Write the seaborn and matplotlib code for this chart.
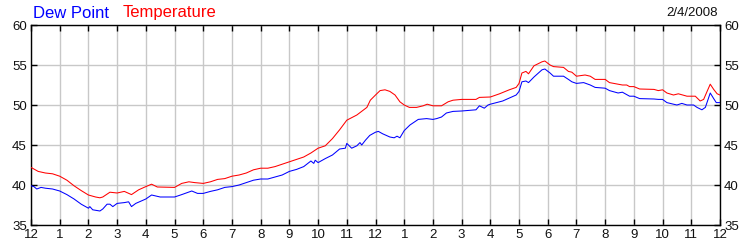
import matplotlib
matplotlib.use("Agg")
import matplotlib.pyplot as plt
import seaborn as sns
import pandas as pd

# ---- data (hours after midnight, degrees F) ----
temp_hours = [0, 0.25, 0.5, 0.75, 1, 1.25, 1.5, 1.75, 2, 2.25,
              2.4, 2.5, 2.75, 3, 3.25, 3.5, 3.75, 4, 4.2, 4.4,
              5, 5.25, 5.5, 5.7, 6, 6.25, 6.5, 6.75, 7, 7.25,
              7.5, 7.75, 8, 8.25, 8.5, 8.75, 9, 9.25, 9.5, 9.75,
              10, 10.25, 10.5, 10.75, 11, 11.35, 11.7, 11.82, 12, 12.16,
              12.33, 12.5, 12.68, 12.85, 13, 13.18, 13.43, 13.66, 13.8, 14,
              14.3, 14.53, 14.7, 15, 15.5, 15.62, 16, 16.32, 16.66, 16.9,
              17.0, 17.1, 17.24, 17.33, 17.52, 17.8, 17.9, 18.08, 18.2, 18.55,
              18.72, 18.84, 19.0, 19.3, 19.48, 19.65, 20.0, 20.15, 20.45, 20.6,
              20.75, 20.85, 21.0, 21.2, 21.7, 21.85, 22.0, 22.15, 22.38, 22.55,
              22.85, 23.14, 23.31, 23.43, 23.55, 23.66, 23.78, 23.9, 24.0]
temp_vals = [42.2, 41.7, 41.5, 41.4, 41.1, 40.6, 39.9, 39.3, 38.75, 38.5,
             38.4, 38.5, 39.1, 39.0, 39.2, 38.8, 39.4, 39.8, 40.1, 39.75,
             39.7, 40.2, 40.4, 40.3, 40.2, 40.4, 40.7, 40.8, 41.1, 41.25,
             41.5, 41.9, 42.1, 42.1, 42.3, 42.6, 42.9, 43.2, 43.5, 44.0,
             44.6, 44.9, 45.8, 46.9, 48.1, 48.75, 49.7, 50.6, 51.25, 51.8,
             51.9, 51.7, 51.25, 50.4, 50.0, 49.7, 49.7, 49.9, 50.1, 49.9,
             49.9, 50.4, 50.6, 50.7, 50.7, 50.95, 51.0, 51.4, 51.9, 52.2,
             52.7, 54.0, 54.2, 53.9, 54.9, 55.4, 55.5, 55.0, 54.8, 54.7,
             54.2, 54.1, 53.6, 53.75, 53.6, 53.2, 53.2, 52.8, 52.6, 52.5,
             52.5, 52.3, 52.3, 52.0, 51.95, 51.8, 51.9, 51.5, 51.25, 51.4,
             51.1, 51.1, 50.5, 50.7, 51.7, 52.6, 51.95, 51.4, 51.25]

dew_hours = [0, 0.1, 0.2, 0.35, 0.5, 0.75, 1, 1.25, 1.5, 1.75,
             2, 2.05, 2.15, 2.4, 2.5, 2.65, 2.75, 2.85, 3, 3.25,
             3.4, 3.5, 3.65, 4, 4.2, 4.5, 5, 5.25, 5.6, 5.8,
             6, 6.25, 6.5, 6.75, 7, 7.25, 7.5, 7.75, 8, 8.25,
             8.5, 8.75, 9, 9.25, 9.5, 9.75, 9.85, 9.9, 10, 10.25,
             10.5, 10.75, 10.95, 11, 11.17, 11.35, 11.46, 11.52, 11.65, 11.8,
             12, 12.1, 12.25, 12.5, 12.65, 12.75, 12.85, 13, 13.2, 13.49,
             13.78, 14.0, 14.13, 14.3, 14.47, 14.7, 15, 15.5, 15.62, 15.79,
             15.92, 16, 16.43, 16.9, 17.0, 17.1, 17.24, 17.33, 17.52, 17.8,
             17.9, 18.08, 18.2, 18.55, 18.72, 18.84, 19.0, 19.25, 19.48, 19.65,
             20.0, 20.15, 20.45, 20.6, 20.85, 21.0, 21.2, 21.7, 21.85, 22.0,
             22.15, 22.38, 22.5, 22.67, 22.85, 23.08, 23.2, 23.37, 23.49, 23.66,
             23.78, 23.87, 24.0]
dew_vals = [39.9, 39.8, 39.5, 39.7, 39.6, 39.5, 39.25, 38.8, 38.25, 37.6,
            37.1, 37.3, 36.9, 36.75, 37.0, 37.6, 37.6, 37.3, 37.7, 37.8,
            37.9, 37.3, 37.7, 38.25, 38.75, 38.5, 38.5, 38.8, 39.25, 38.95,
            38.95, 39.2, 39.4, 39.7, 39.8, 40.0, 40.3, 40.6, 40.75, 40.75,
            41.0, 41.25, 41.7, 41.95, 42.3, 43.0, 42.7, 43.1, 42.8, 43.3,
            43.75, 44.5, 44.6, 45.2, 44.6, 44.9, 45.3, 45.0, 45.6, 46.2,
            46.6, 46.7, 46.4, 46.0, 45.9, 46.1, 45.9, 46.8, 47.5, 48.2,
            48.3, 48.2, 48.3, 48.5, 49.0, 49.2, 49.25, 49.4, 49.9, 49.6,
            50.0, 50.1, 50.5, 51.25, 51.7, 52.9, 53.0, 52.8, 53.5, 54.4,
            54.5, 54.0, 53.6, 53.6, 53.2, 52.9, 52.7, 52.8, 52.5, 52.2,
            52.1, 51.8, 51.5, 51.6, 51.1, 51.1, 50.8, 50.75, 50.7, 50.7,
            50.3, 50.1, 50.0, 50.2, 50.0, 50.0, 49.7, 49.4, 49.7, 51.5,
            50.8, 50.3, 50.3]

x_tick_hours = list(range(0, 25))
x_tick_labels = ["12", "1", "2", "3", "4", "5", "6", "7", "8", "9", "10", "11",
                 "12", "1", "2", "3", "4", "5", "6", "7", "8", "9", "10", "11", "12"]
y_ticks = [35, 40, 45, 50, 55, 60]
date_label = "2/4/2008"

# ---- style ----
sns.set_style("white")
plt.rcParams["font.family"] = ["Liberation Sans", "DejaVu Sans"]

temp_df = pd.DataFrame({"hour": temp_hours, "value": temp_vals})
dew_df = pd.DataFrame({"hour": dew_hours, "value": dew_vals})

fig = plt.figure(figsize=(7.5, 2.5), dpi=100)
ax = fig.add_axes([31 / 750, 25 / 250, 689 / 750, 200 / 250])

sns.lineplot(data=dew_df, x="hour", y="value", ax=ax, color="#0000ff",
             linewidth=0.75, estimator=None, sort=False, zorder=3)
sns.lineplot(data=temp_df, x="hour", y="value", ax=ax, color="#ff0000",
             linewidth=0.75, estimator=None, sort=False, zorder=3)

ax.set_xlim(0, 24)
ax.set_ylim(35, 60)
ax.set_xticks(x_tick_hours)
ax.set_xticklabels(x_tick_labels)
ax.set_yticks(y_ticks)
ax.set_xlabel("")
ax.set_ylabel("")
ax.grid(True, color="#c8c8c8", linewidth=1.0, zorder=0)
ax.set_axisbelow(True)
for s in ax.spines.values():
    s.set_color("black")
    s.set_linewidth(1.0)
ax.tick_params(axis="both", direction="in", length=4, width=1, color="black",
               labelsize=9.5, labelcolor="#111111", pad=3)
ax.tick_params(axis="x", top=True, bottom=True)
ax.tick_params(axis="y", left=True, right=True, labelleft=True, labelright=True)

fig.text(33 / 750, 1 - 13 / 250, "Dew Point", color="#0000ff", fontsize=12,
         ha="left", va="center")
fig.text(123 / 750, 1 - 13 / 250, "Temperature", color="#ff0000", fontsize=12,
         ha="left", va="center")
fig.text(718 / 750, 1 - 13 / 250, date_label, color="#111111", fontsize=9.5,
         ha="right", va="center")

fig.savefig("out.png", dpi=100, facecolor="white")
